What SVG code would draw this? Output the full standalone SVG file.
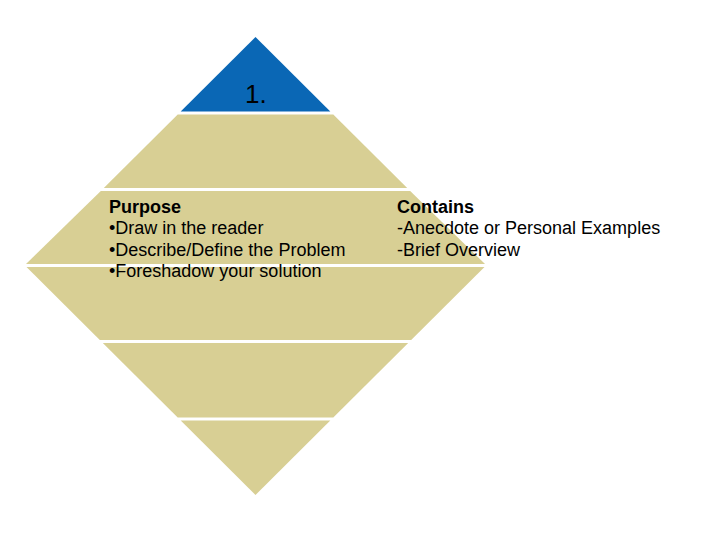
<svg xmlns="http://www.w3.org/2000/svg" width="720" height="540" viewBox="0 0 720 540">
<style>
.tan{fill:#d8cf94}
.blue{fill:#0a67b5}
.t{font-family:"Liberation Sans",Arial,sans-serif;font-size:18px;fill:#000}
.b{font-weight:bold}
.num{font-family:"Liberation Sans",Arial,sans-serif;font-size:26px;fill:#000}
</style>
<rect width="720" height="540" fill="#fff"/>
<g id="band1"><polygon class="blue" points="255.5,37 330.3,111.5 180.7,111.5"/><text class="num" x="245" y="103">1.</text></g>
<g id="band2"><polygon class="tan" points="177.7,114.5 333.3,114.5 407.2,188 103.8,188"/></g>
<g id="band3"><polygon class="tan" points="100.8,191 410.2,191 485,264 26,264"/></g>
<g id="band4"><polygon class="tan" points="26.5,267 484.5,267 411.2,340 99.8,340"/></g>
<g id="band5"><polygon class="tan" points="102.8,343 408.2,343 333.3,417.5 177.7,417.5"/></g>
<g id="band6"><polygon class="tan" points="180.7,420.5 330.3,420.5 255.5,495"/></g>
<g id="connectors"></g>
<g id="purpose">
<text class="t b" x="109" y="213">Purpose</text>
<text class="t" x="109" y="234">•Draw in the reader</text>
<text class="t" x="109" y="256">•Describe/Define the Problem</text>
<text class="t" x="109" y="277">•Foreshadow your solution</text>
</g>
<g id="contains">
<text class="t b" x="397" y="213">Contains</text>
<text class="t" x="397" y="234">-Anecdote or Personal Examples</text>
<text class="t" x="397" y="256">-Brief Overview</text>
</g>
</svg>
